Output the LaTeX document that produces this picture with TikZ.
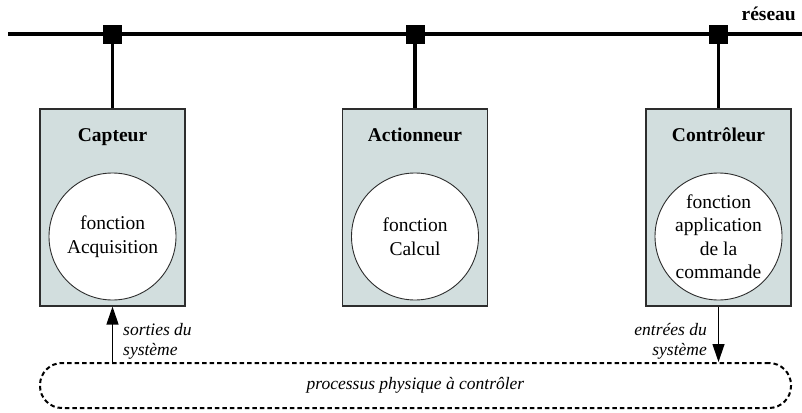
\documentclass[tikz,border=0pt]{standalone}
\usepackage{fontspec}
\setmainfont{Liberation Serif}
\usetikzlibrary{positioning,arrows.meta}

\definecolor{boxfill}{RGB}{210,222,222}
\definecolor{boxline}{RGB}{45,45,45}

\begin{document}
\begin{tikzpicture}[x=1pt, y=-1pt,
        unit/.style={draw=boxline, line width=1.1pt, fill=boxfill, minimum width=145pt, minimum height=197pt, inner sep=0pt},
        unittitle/.style={font=\fontsize{19.5}{23}\selectfont\bfseries, anchor=base, inner sep=0pt},
        func/.style={circle, draw=boxline, line width=0.9pt, fill=white, minimum size=127pt, inner sep=0pt, align=center, font=\fontsize{19.5}{23.5}\selectfont},
        tap/.style={fill=black, minimum size=19pt, inner sep=0pt},
        link/.style={line width=3.5pt},
        signal/.style={line width=1.3pt, -{Stealth[inset=0pt, length=18pt, width=12pt]}},
        note/.style={font=\fontsize{17.5}{20}\selectfont\itshape, inner sep=0pt}
    ]
        \useasboundingbox (0, 0) rectangle (802, 412);

        % le reseau
        \coordinate (busW) at (8, 34.5);
        \coordinate (busE) at (802, 34.5);
        \draw[line width=4pt] (busW) -- (busE);
        \node[unittitle, anchor=base east] (reseau) at (796, 21) {réseau};

        % les trois noeuds
        \node[unit] (capteur) at (112.5, 207.5) {};
        \node[unit] (actionneur) at (415, 207.5) {};
        \node[unit] (controleur) at (718.5, 207.5) {};

        \node[unittitle] (capteurT) at ([yshift=-33pt]capteur.north) {Capteur};
        \node[unittitle] (actionneurT) at ([yshift=-33pt]actionneur.north) {Actionneur};
        \node[unittitle] (controleurT) at ([yshift=-33pt]controleur.north) {Contrôleur};

        \node[func] (acquisition) at (112.5, 236.5) {fonction\\Acquisition};
        \node[func] (calcul) at (415, 236.5) {fonction\\Calcul};
        \node[func] (commande) at (718.5, 236.5) {fonction\\application\\de la\\commande};

        \node[tap] (tapC) at (capteur |- busW) {};
        \node[tap] (tapA) at (actionneur |- busW) {};
        \node[tap] (tapK) at (controleur |- busW) {};
        \draw[link] (tapC) -- (capteur);
        \draw[link] (tapA) -- (actionneur);
        \draw[link] (tapK) -- (controleur);

        % le processus
        \node[draw, line width=2pt, dash pattern=on 4.5pt off 3pt, rounded corners=22pt,
            minimum width=751pt, minimum height=45pt,
            font=\fontsize{17.5}{20}\selectfont\itshape] (process) at (415.5, 385.5) {processus physique à contrôler};

        \draw[signal] (process.north -| capteur) -- (capteur.south);
        \draw[signal] (controleur.south) -- (process.north -| controleur);
        \node[note, anchor=west, align=left] (sorties) at (123, 341) {sorties du\\système};
        \node[note, anchor=east, align=right] (entrees) at (707, 341) {entrées du\\système};
    \end{tikzpicture}
\end{document}
